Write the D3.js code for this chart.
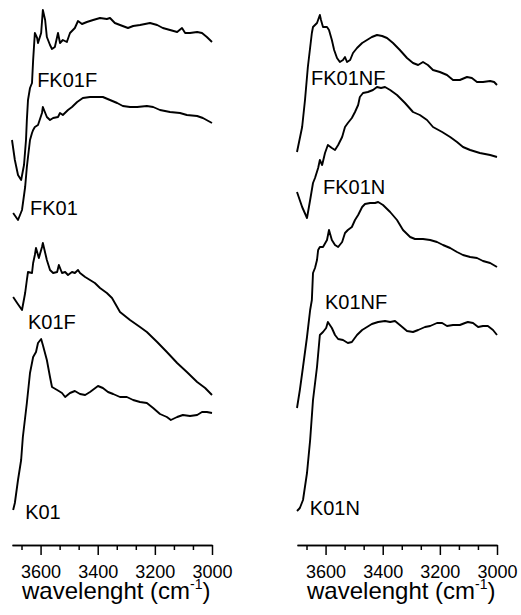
<!DOCTYPE html>
<html>
<head>
<meta charset="utf-8">
<script src="https://cdn.jsdelivr.net/npm/d3@7"></script>
<style>
  body { margin: 0; background: #fff; }
  text { font-family: "Liberation Sans", Arial, sans-serif; fill: #000; }
</style>
</head>
<body>
<div id="wrapper"></div>
<script>
// Spectra: [wavenumber (cm-1), offset intensity (a.u.)]
const fk01f = [[3700,40.5],[3690,38.5],[3679,37.0],[3668,36.5],[3658,38.0],[3651,40.5],[3648,42.5],[3644,44.5],[3637,45.7],[3630,46.2],[3626,48.5],[3620,51.2],[3612,50.7],[3609,50.2],[3598,51.2],[3592,53.5],[3584,52.5],[3578,50.8],[3567,50.0],[3560,49.6],[3550,49.8],[3539,51.2],[3532,50.2],[3522,50.5],[3508,50.3],[3497,51.2],[3480,51.7],[3469,52.4],[3455,52.1],[3438,52.3],[3416,52.5],[3392,52.7],[3368,52.6],[3357,52.7],[3340,52.2],[3322,52.0],[3294,51.7],[3276,51.9],[3252,52.0],[3217,52.2],[3192,52.0],[3172,51.7],[3147,51.5],[3122,51.3],[3105,51.7],[3094,51.2],[3077,51.2],[3052,51.3],[3035,51.2],[3018,50.8],[3000,50.3]];
const fk01 = [[3696,33.2],[3679,32.5],[3665,33.5],[3654,35.8],[3648,37.8],[3644,38.8],[3637,40.5],[3630,41.2],[3626,41.5],[3620,41.8],[3609,42.0],[3595,43.2],[3592,43.8],[3578,42.8],[3567,42.5],[3556,42.7],[3539,42.8],[3532,43.2],[3522,43.0],[3504,43.5],[3490,43.8],[3472,44.3],[3452,44.7],[3427,44.8],[3402,44.8],[3382,44.8],[3357,44.5],[3332,44.2],[3312,43.9],[3287,43.8],[3262,43.8],[3228,43.9],[3206,43.8],[3182,43.5],[3147,43.3],[3112,43.2],[3088,43.0],[3052,42.9],[3032,42.7],[3000,42.2]];
const k01f = [[3696,24.8],[3682,24.2],[3665,23.5],[3654,25.2],[3648,26.5],[3644,27.3],[3630,27.2],[3626,28.2],[3620,29.0],[3616,29.7],[3606,28.7],[3595,29.8],[3592,30.2],[3578,28.5],[3567,27.5],[3556,27.2],[3542,27.3],[3536,28.0],[3525,27.2],[3514,27.3],[3504,27.0],[3490,27.3],[3480,27.2],[3469,27.5],[3462,27.2],[3444,26.8],[3427,26.5],[3410,26.2],[3392,25.7],[3368,25.2],[3350,24.7],[3322,23.3],[3287,22.5],[3252,21.8],[3228,21.3],[3192,20.3],[3158,19.3],[3122,18.2],[3088,17.3],[3052,16.3],[3024,15.7],[3000,15.0]];
const k01 = [[3696,3.5],[3690,4.2],[3679,6.5],[3668,8.5],[3662,10.8],[3648,14.2],[3637,17.2],[3626,18.8],[3616,19.3],[3609,20.2],[3598,20.6],[3592,20.0],[3578,18.5],[3567,16.8],[3560,15.8],[3542,15.5],[3525,15.2],[3514,14.8],[3497,15.2],[3480,15.4],[3462,15.1],[3444,15.0],[3427,15.3],[3399,15.9],[3382,15.7],[3364,15.3],[3346,15.1],[3322,14.8],[3298,14.8],[3276,14.5],[3252,14.3],[3228,14.2],[3206,13.7],[3182,13.1],[3158,12.8],[3144,12.5],[3122,12.8],[3102,13.0],[3077,12.9],[3052,13.0],[3035,13.3],[3018,13.3],[3000,13.2]];

const fk01nf = [[3700,39.3],[3682,41.8],[3672,44.5],[3662,47.8],[3648,51.2],[3644,51.8],[3630,52.2],[3620,53.0],[3616,52.5],[3609,51.8],[3595,51.8],[3588,51.5],[3578,50.5],[3570,49.5],[3560,48.7],[3550,48.3],[3539,48.5],[3532,48.8],[3525,48.3],[3514,48.5],[3504,49.2],[3490,49.7],[3472,50.2],[3455,50.5],[3438,50.8],[3420,51.0],[3402,50.9],[3385,50.7],[3364,50.2],[3340,49.5],[3315,48.7],[3294,48.2],[3276,48.0],[3259,48.3],[3242,48.0],[3224,47.5],[3200,47.3],[3175,47.0],[3154,46.5],[3130,46.5],[3105,46.8],[3088,46.7],[3070,46.3],[3049,46.3],[3024,46.4],[3010,46.3],[3000,46.0]];
const fk01n = [[3700,35.3],[3682,33.8],[3665,32.7],[3654,34.5],[3644,36.2],[3637,36.7],[3626,37.7],[3620,38.5],[3612,38.0],[3602,39.2],[3592,40.0],[3578,39.7],[3567,39.5],[3556,40.0],[3542,40.8],[3532,41.8],[3522,42.2],[3508,42.7],[3497,43.3],[3486,44.0],[3480,44.8],[3469,45.2],[3452,45.3],[3434,45.5],[3420,45.8],[3406,45.7],[3392,45.8],[3374,45.5],[3350,45.0],[3322,44.2],[3294,43.3],[3270,43.0],[3245,42.5],[3224,41.8],[3192,41.3],[3164,40.8],[3140,40.3],[3119,39.8],[3094,39.5],[3060,39.2],[3024,39.0],[3000,38.8]];
const k01nf = [[3700,13.7],[3690,15.5],[3679,17.8],[3665,20.8],[3654,23.5],[3648,24.5],[3644,27.2],[3637,27.7],[3630,28.5],[3626,29.5],[3620,29.8],[3609,29.8],[3595,30.5],[3588,31.5],[3578,30.5],[3567,30.0],[3556,29.8],[3542,30.3],[3532,31.2],[3522,31.5],[3508,31.8],[3497,32.5],[3486,33.0],[3472,33.8],[3462,34.1],[3444,34.2],[3427,34.2],[3416,34.3],[3399,34.0],[3374,33.3],[3350,32.5],[3329,31.5],[3304,30.8],[3287,30.6],[3259,30.6],[3234,30.5],[3210,30.3],[3189,30.0],[3164,29.7],[3140,29.3],[3119,29.0],[3094,28.8],[3070,28.7],[3049,28.4],[3024,28.2],[3000,27.8]];
const k01n = [[3700,3.4],[3690,3.7],[3679,4.5],[3665,7.2],[3654,10.5],[3644,14.5],[3630,17.8],[3620,21.0],[3609,21.3],[3598,21.7],[3592,22.3],[3578,21.7],[3567,21.0],[3556,20.6],[3539,20.5],[3522,20.2],[3508,20.3],[3490,21.0],[3472,21.5],[3455,21.8],[3438,22.1],[3416,22.3],[3392,22.4],[3374,22.3],[3357,22.4],[3340,22.0],[3315,21.4],[3294,21.3],[3276,21.5],[3252,21.8],[3234,21.9],[3210,22.2],[3192,22.2],[3175,21.9],[3154,22.0],[3130,22.0],[3112,22.2],[3102,22.3],[3084,22.2],[3066,21.8],[3049,21.9],[3032,21.9],[3014,21.5],[3000,21.0]];

// Sample names and where their labels sit (wavenumber, intensity)
const leftNames = ["FK01F", "FK01", "K01F", "K01"];
const leftSeries = [fk01f, fk01, k01f, k01];
const leftLabelAt = [[3612, 45.8], [3637, 33.0], [3644, 21.6], [3654, 2.6]];
const rightNames = ["FK01NF", "FK01N", "K01NF", "K01N"];
const rightSeries = [fk01nf, fk01n, k01nf, k01n];
const rightLabelAt = [[3651, 46.0], [3609, 35.1], [3602, 23.6], [3655, 3.0]];

const majorTicks = [3600, 3400, 3200, 3000];
const minorTicks = [3666.7, 3533.3, 3466.7, 3333.3, 3266.7, 3133.3, 3066.7];

const dimensions = {
    width: 521,
    height: 615,
    axisY: 545,
    topY: 5,
};

const wrapper = d3.select("#wrapper")
    .append("svg")
    .attr("width", dimensions.width)
    .attr("height", dimensions.height);

const yScale = d3.scaleLinear()
    .domain([0, 54])
    .range([dimensions.axisY, dimensions.topY]);

function drawPanel(left, series, names, labelAt) {
    const xScale = d3.scaleLinear()
        .domain([3700, 3000])
        .range([left, left + 200]);

    const line = d3.line()
        .x(d => xScale(d[0]))
        .y(d => yScale(d[1]));

    const g = wrapper.append("g");

    g.selectAll("path.spectrum")
        .data(series)
        .join("path")
        .attr("class", "spectrum")
        .attr("d", line)
        .attr("fill", "none")
        .attr("stroke", "#000")
        .attr("stroke-width", 1.9)
        .attr("stroke-linejoin", "round");

    g.selectAll("text.name")
        .data(names)
        .join("text")
        .attr("class", "name")
        .attr("x", (d, i) => xScale(labelAt[i][0]))
        .attr("y", (d, i) => yScale(labelAt[i][1]))
        .style("font-size", "20px")
        .text(d => d);

    // x axis: minor ticks, then major ticks with labels
    const minorAxis = g.append("g")
        .attr("transform", `translate(0, ${dimensions.axisY})`)
        .call(d3.axisBottom(xScale).tickValues(minorTicks).tickSize(5).tickSizeOuter(0).tickFormat(""));
    const majorAxis = g.append("g")
        .attr("transform", `translate(0, ${dimensions.axisY})`)
        .call(d3.axisBottom(xScale).tickValues(majorTicks).tickSize(10).tickSizeOuter(0).tickPadding(10).tickFormat(d3.format("d")));
    [minorAxis, majorAxis].forEach(a => {
        a.select(".domain").attr("stroke", "#000").attr("stroke-width", 1.5);
        a.selectAll(".tick line").attr("stroke", "#000").attr("stroke-width", 1.5);
    });
    majorAxis.selectAll(".tick text")
        .style("font-size", "18px")
        .style("font-family", "'Liberation Sans', Arial, sans-serif")
        .attr("fill", "#000");

    const title = g.append("text")
        .attr("x", xScale(3335))
        .attr("y", 599)
        .attr("text-anchor", "middle")
        .style("font-size", "24px");
    title.append("tspan").text("wavelenght (cm");
    title.append("tspan").attr("dy", -10).style("font-size", "14px").text("-1");
    title.append("tspan").attr("dy", 10).text(")");
}

drawPanel(12, leftSeries, leftNames, leftLabelAt);
drawPanel(297, rightSeries, rightNames, rightLabelAt);
</script>
</body>
</html>
